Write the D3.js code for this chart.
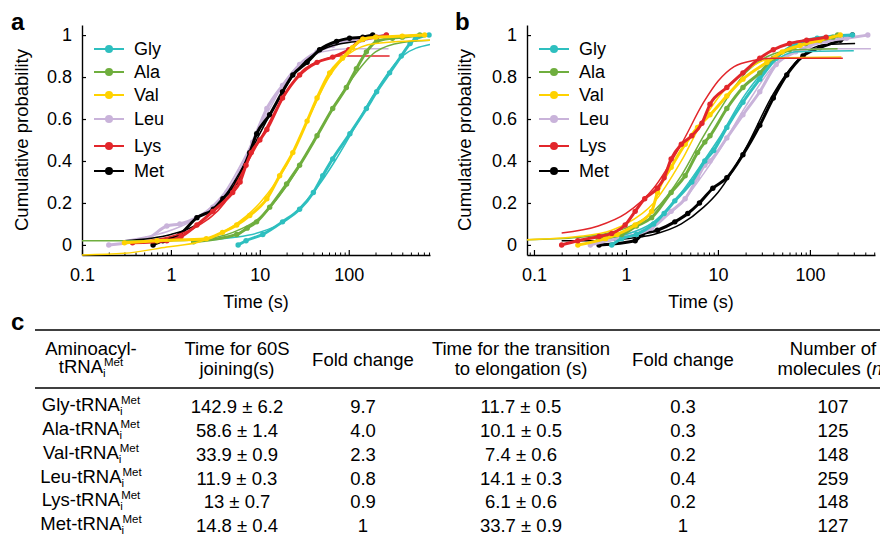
<!DOCTYPE html>
<html>
<head>
<meta charset="utf-8">
<script src="https://cdn.jsdelivr.net/npm/d3@7"></script>
<style>
  body { margin: 0; background: #fff; }
  svg { font-family: "Liberation Sans", Arial, sans-serif; }
</style>
</head>
<body>
<svg id="fig" width="880" height="545"></svg>
<script>
'use strict';

// series names + colours (legend order)
const seriesNames = ["Gly", "Ala", "Val", "Leu", "Lys", "Met"];
const seriesColors = ["#2ebfbf", "#6fae3e", "#ffd200", "#c9b3da", "#e2262b", "#000000"];

// panel a: measured cumulative points [time (s), probability]
const aGly = [[5.7,0.0],[7,0.02],[10.8,0.05],[18,0.11],[28,0.17],[40,0.25],[51,0.33],[66,0.41],[103,0.53],[158,0.65],[206,0.73],[288,0.82],[390,0.9],[490,0.96],[560,0.98],[800,1.0]];
const aAla = [[1.8,0.015],[5.5,0.05],[7.2,0.08],[9.2,0.11],[12.9,0.18],[20,0.29],[28,0.38],[44,0.52],[66,0.65],[94,0.75],[122,0.84],[158,0.92],[206,0.97],[310,0.985],[400,0.99],[630,1.0]];
const aVal = [[0.3,0.01],[0.7,0.02],[2.5,0.03],[3.8,0.06],[5.5,0.095],[7.7,0.14],[12,0.22],[16.7,0.33],[23.5,0.44],[34,0.59],[44,0.7],[61,0.82],[85,0.89],[110,0.94],[144,0.98],[200,0.99],[400,0.995],[714,1.0]];
const aLeu = [[0.2,0.0],[0.54,0.03],[0.9,0.09],[1.26,0.1],[1.96,0.13],[2.96,0.18],[4.26,0.25],[5.96,0.35],[8.3,0.49],[12,0.65],[18,0.76],[28,0.86],[44,0.92],[66,0.95],[100,0.975],[158,0.985],[265,1.0]];
const aLys = [[0.37,0.01],[0.9,0.02],[1.3,0.04],[1.96,0.095],[2.96,0.16],[4.95,0.25],[6,0.3],[7,0.38],[8,0.44],[10,0.5],[12,0.55],[18,0.7],[28,0.81],[44,0.87],[66,0.895],[100,0.93],[144,0.98],[206,0.99],[265,1.0]];
const aMet = [[0.63,0.0],[0.81,0.02],[1.26,0.05],[1.96,0.13],[3,0.17],[3.84,0.22],[5.5,0.3],[7.7,0.44],[9.2,0.53],[12.9,0.62],[18,0.73],[23.5,0.81],[34,0.87],[47,0.93],[73,0.97],[102,0.985],[144,0.99],[186,1.0]];

// panel a: fitted curves
const aGlyFit = [[2,0.02],[5,0.035],[10,0.06],[20,0.12],[40,0.25],[70,0.4],[100,0.51],[200,0.73],[400,0.9],[820,0.955]];
const aAlaFit = [[0.1,0.02],[1,0.02],[2,0.025],[5,0.06],[10,0.13],[20,0.28],[40,0.49],[60,0.62],[100,0.77],[200,0.92],[400,0.965],[820,0.975]];
const aValFit = [[0.1,-0.048],[0.3,-0.04],[0.9,-0.01],[2.1,0.015],[5,0.09],[10,0.2],[20,0.38],[35,0.6],[60,0.8],[100,0.91],[200,0.96],[820,0.975]];
const aLeuFit = [[0.3,0.02],[1,0.07],[2,0.13],[4,0.25],[7,0.43],[10,0.56],[15,0.7],[20,0.79],[30,0.87],[50,0.92],[100,0.935],[280,0.935]];
const aLysFit = [[0.3,0.01],[1,0.04],[2,0.09],[4,0.2],[7,0.38],[10,0.5],[15,0.64],[20,0.73],[30,0.83],[50,0.88],[80,0.9],[288,0.9]];
const aMetFit = [[0.3,0.02],[1,0.05],[2,0.1],[4,0.23],[7,0.4],[10,0.53],[15,0.67],[20,0.76],[30,0.86],[50,0.93],[100,0.965],[150,0.97]];

// panel b: measured cumulative points
const bGly = [[0.7,0.0],[0.9,0.03],[1.3,0.05],[2,0.1],[2.6,0.15],[3.4,0.21],[5.2,0.3],[7.2,0.4],[9,0.45],[12.5,0.56],[18.7,0.68],[28.5,0.79],[43,0.89],[72,0.96],[120,0.985],[290,1.0]];
const bAla = [[0.5,0.03],[0.9,0.05],[1.3,0.09],[1.9,0.13],[3.1,0.25],[4.4,0.33],[6,0.44],[7.2,0.49],[8.2,0.52],[12.5,0.65],[18.7,0.75],[28.5,0.82],[40,0.89],[60,0.93],[90,0.96],[128,0.975],[178,0.99],[200,1.0]];
const bVal = [[0.3,0.0],[0.6,0.03],[0.8,0.05],[1.26,0.095],[1.9,0.16],[2.2,0.25],[3.1,0.37],[4.4,0.48],[6,0.56],[8.2,0.62],[12.5,0.71],[18.7,0.79],[34,0.87],[50,0.92],[78,0.95],[128,0.975],[214,1.0]];
const bLeu = [[0.41,0.0],[0.8,0.03],[1.3,0.05],[1.9,0.08],[3.1,0.16],[4.4,0.22],[6,0.32],[7.2,0.38],[8.2,0.4],[12.5,0.51],[18.7,0.62],[28.5,0.73],[43,0.86],[70,0.92],[100,0.95],[150,0.97],[250,0.985],[426,1.0]];
const bLys = [[0.2,0.0],[0.3,0.02],[0.51,0.04],[0.7,0.055],[0.98,0.095],[1.26,0.16],[1.6,0.22],[2.2,0.27],[2.6,0.32],[3.1,0.41],[4,0.48],[5.2,0.52],[6.7,0.58],[8.2,0.67],[12.5,0.75],[18.7,0.82],[28.5,0.89],[40,0.93],[60,0.96],[92,0.975],[150,0.99]];
const bMet = [[0.51,0.0],[1.26,0.02],[1.5,0.05],[2.2,0.07],[3.4,0.11],[4.7,0.15],[6.3,0.2],[8.8,0.27],[12.5,0.32],[18.7,0.43],[28.5,0.57],[40,0.7],[56,0.81],[84,0.9],[128,0.94],[214,0.975],[290,1.0]];

// panel b: fitted curves
const bGlyFit = [[0.5,0.03],[1,0.05],[2,0.11],[4,0.25],[7,0.4],[10,0.5],[20,0.72],[40,0.87],[70,0.92],[300,0.925]];
const bAlaFit = [[0.084,0.025],[0.3,0.035],[0.7,0.06],[1,0.08],[2,0.16],[4,0.33],[7,0.52],[10,0.63],[20,0.82],[40,0.91],[70,0.93],[200,0.935]];
const bValFit = [[0.084,0.025],[0.3,0.04],[0.7,0.07],[1,0.1],[2,0.2],[4,0.4],[7,0.6],[10,0.7],[20,0.83],[40,0.89],[220,0.895]];
const bLeuFit = [[0.5,0.02],[1,0.05],[2,0.1],[4,0.2],[7,0.34],[10,0.44],[20,0.66],[40,0.85],[70,0.92],[150,0.935],[460,0.935]];
const bLysFit = [[0.2,0.057],[0.5,0.09],[1,0.15],[2,0.27],[4,0.48],[7,0.68],[10,0.78],[15,0.85],[25,0.88],[40,0.89],[228,0.89]];
const bMetFit = [[0.2,0.02],[0.6,0.02],[1,0.03],[2,0.05],[4,0.1],[7,0.18],[10,0.25],[20,0.46],[40,0.72],[70,0.87],[100,0.93],[150,0.955],[310,0.96]];

// axis ticks
const yTickValues = [0, 0.2, 0.4, 0.6, 0.8, 1];
const xMajorTicks = [0.1, 1, 10, 100];

// table (panel c)
const joinTime = ["142.9 ± 6.2", "58.6 ± 1.4", "33.9 ± 0.9", "11.9 ± 0.3", "13 ± 0.7", "14.8 ± 0.4"];
const joinFold = ["9.7", "4.0", "2.3", "0.8", "0.9", "1"];
const elongTime = ["11.7 ± 0.5", "10.1 ± 0.5", "7.4 ± 0.6", "14.1 ± 0.3", "6.1 ± 0.6", "33.7 ± 0.9"];
const elongFold = ["0.3", "0.3", "0.2", "0.4", "0.2", "1"];
const nMolecules = ["107", "125", "148", "259", "148", "127"];

const svg = d3.select("#fig");

function drawPanel(opt) {
    let g = svg.append("g");
    let x = d3.scaleLog().domain(opt.xDomain).range([opt.left, opt.right]);
    let y = d3.scaleLinear().domain([-0.048, 1.048]).range([255, 25]);

    // minor ticks (2..9 of each decade)
    let minor = x.ticks().filter(t => Math.abs(Math.log10(t) - Math.round(Math.log10(t))) > 1e-6);
    let xMinor = d3.axisBottom(x).tickValues(minor).tickSizeInner(-2.5).tickSizeOuter(0).tickFormat("");
    g.append("g").attr("transform", "translate(0,255)").call(xMinor)
        .call(s => s.select(".domain").remove())
        .selectAll("line").attr("stroke-width", 1);

    let xAxis = d3.axisBottom(x).tickValues(xMajorTicks).tickSizeInner(-5).tickSizeOuter(0)
        .tickPadding(13).tickFormat(d => d < 1 ? "0.1" : d3.format("d")(d));
    let gx = g.append("g").attr("transform", "translate(0,255)").call(xAxis);
    gx.select(".domain").attr("stroke-width", 1.4);
    gx.selectAll("line").attr("stroke-width", 1.2);
    gx.selectAll("text").attr("font-size", 18).attr("font-family", null).attr("fill", "#000");

    let yAxis = d3.axisLeft(y).tickValues(yTickValues).tickSizeInner(-4).tickSizeOuter(0)
        .tickPadding(10).tickFormat(d => (d === 0 || d === 1) ? String(d) : d3.format(".1f")(d));
    let gy = g.append("g").attr("transform", `translate(${opt.left},0)`).call(yAxis);
    gy.select(".domain").attr("stroke-width", 1.4);
    gy.selectAll("line").attr("stroke-width", 1.2);
    gy.selectAll("text").attr("font-size", 18).attr("font-family", null).attr("fill", "#000");

    // data: measured points as thick dotted chain, fit as thin line
    let line = d3.line().x(d => x(d[0])).y(d => y(d[1])).curve(d3.curveMonotoneX);
    opt.order.forEach(i => {
        let col = seriesColors[i];
        g.append("path").datum(opt.dots[i]).attr("d", line)
            .attr("fill", "none").attr("stroke", col).attr("stroke-width", 3);
        g.append("g").selectAll("circle").data(opt.dots[i]).join("circle")
            .attr("cx", d => x(d[0])).attr("cy", d => y(d[1])).attr("r", 2.7).attr("fill", col);
        g.append("path").datum(opt.fits[i]).attr("d", line)
            .attr("fill", "none").attr("stroke", col).attr("stroke-width", 1.5);
    });

    // legend
    let legRows = [49, 72, 95, 119, 146, 171];
    let leg = g.append("g").selectAll("g").data(seriesNames).join("g")
        .attr("transform", (d, i) => `translate(${opt.legX},${legRows[i]})`);
    leg.append("line").attr("x1", 0).attr("x2", 30).attr("stroke", (d, i) => seriesColors[i]).attr("stroke-width", 2);
    leg.append("circle").attr("cx", 15).attr("r", 4).attr("fill", (d, i) => seriesColors[i]);
    leg.append("text").attr("x", 40).attr("dy", "0.36em").attr("font-size", 18).text(d => d);

    // labels
    g.append("text").attr("x", (opt.left + opt.right) / 2).attr("y", 308)
        .attr("text-anchor", "middle").attr("font-size", 18).text("Time (s)");
    g.append("text").attr("transform", `translate(${opt.yLabelX},140) rotate(-90)`)
        .attr("text-anchor", "middle").attr("font-size", 18.5).text("Cumulative probability");
    g.append("text").attr("x", opt.letterX).attr("y", 30)
        .attr("font-size", 24).attr("font-weight", "bold").text(opt.letter);
}

drawPanel({
    letter: "a", letterX: 11, left: 82, right: 430, xDomain: [0.1, 820],
    legX: 94, yLabelX: 28,
    dots: [aGly, aAla, aVal, aLeu, aLys, aMet],
    fits: [aGlyFit, aAlaFit, aValFit, aLeuFit, aLysFit, aMetFit],
    order: [3, 5, 4, 0, 1, 2]
});
drawPanel({
    letter: "b", letterX: 455, left: 527, right: 875, xDomain: [0.084, 510],
    legX: 539, yLabelX: 471,
    dots: [bGly, bAla, bVal, bLeu, bLys, bMet],
    fits: [bGlyFit, bAlaFit, bValFit, bLeuFit, bLysFit, bMetFit],
    order: [5, 3, 0, 1, 2, 4]
});

// ---- panel c: table ----
let tg = svg.append("g").attr("font-size", 18.5);
tg.append("text").attr("x", 11).attr("y", 330).attr("font-size", 24).attr("font-weight", "bold").text("c");
tg.append("line").attr("x1", 35).attr("x2", 880).attr("y1", 330).attr("y2", 330).attr("stroke", "#000").attr("stroke-width", 1.6);
tg.append("line").attr("x1", 35).attr("x2", 880).attr("y1", 388).attr("y2", 388).attr("stroke", "#000").attr("stroke-width", 1.3);

const colX = [91, 237, 363, 521, 683, 833];

// text with a stacked subscript "i" and superscript "Met", centred at cx
function trnaLabel(parent, cx, y, main) {
    let t = parent.append("text").attr("y", y).text(main);
    let w = t.node().getComputedTextLength();
    let sup = parent.append("text").attr("y", y - 7).attr("font-size", 11.5).text("Met");
    let ws = sup.node().getComputedTextLength();
    let x0 = cx - (w + 1 + ws) / 2;
    t.attr("x", x0);
    sup.attr("x", x0 + w + 1);
    parent.append("text").attr("x", x0 + w).attr("y", y + 4).attr("font-size", 11.5).text("i");
}

function centred(x, y, s) {
    return tg.append("text").attr("x", x).attr("y", y).attr("text-anchor", "middle").text(s);
}

// header
centred(colX[0], 355, "Aminoacyl-");
trnaLabel(tg, colX[0], 373, "tRNA");
centred(colX[1], 355, "Time for 60S");
centred(colX[1], 375, "joining(s)");
centred(colX[2], 366, "Fold change");
centred(colX[3], 355, "Time for the transition");
centred(colX[3], 375, "to elongation (s)");
centred(colX[4], 366, "Fold change");
centred(colX[5], 355, "Number of");
let mol = centred(colX[5], 375, "molecules (");
mol.append("tspan").attr("font-style", "italic").text("n");
mol.append("tspan").text(")");

const rowY = [413, 437, 461, 485, 508, 532];
seriesNames.forEach((name, i) => {
    trnaLabel(tg, colX[0], rowY[i] - 2, name + "-tRNA");
    centred(colX[1], rowY[i], joinTime[i]);
    centred(colX[2], rowY[i], joinFold[i]);
    centred(colX[3], rowY[i], elongTime[i]);
    centred(colX[4], rowY[i], elongFold[i]);
    centred(colX[5], rowY[i], nMolecules[i]);
});
</script>
</body>
</html>
